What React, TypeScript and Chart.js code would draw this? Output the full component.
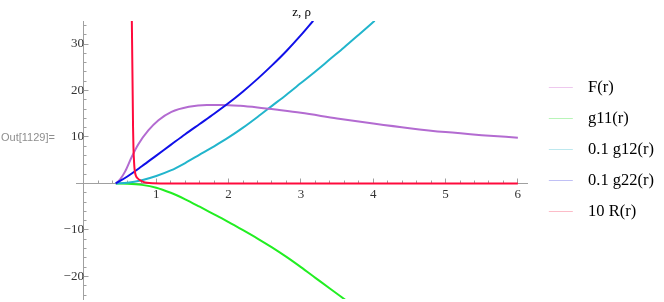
import { useEffect, useRef } from 'react';
import { Chart, registerables } from 'chart.js';

Chart.register(...registerables);

// ---- data ----
const fR = [0.44, 0.5, 0.57, 0.66, 0.75, 0.89, 1.03, 1.21, 1.45, 1.7, 1.9, 2.16, 2.4, 2.7, 3.0, 3.5, 4.0, 4.5, 5.0, 5.5, 6.0];
const fV = [0, 0.9, 2.6, 5.7, 8.4, 11.4, 13.6, 15.4, 16.5, 16.9, 16.9, 16.7, 16.35, 15.8, 15.2, 14.0, 12.9, 11.9, 11.05, 10.4, 9.85];

const g11R = [0.44, 0.6, 0.8, 1.0, 1.2, 1.4, 1.6, 1.8, 2.0, 2.2, 2.4, 2.6, 2.8, 3.0, 3.2, 3.4, 3.62];
const g11V = [0, -0.05, -0.3, -0.9, -2.0, -3.4, -5.0, -6.65, -8.3, -10.05, -11.85, -13.75, -15.8, -18.0, -20.3, -22.6, -25.1];

const g12R = [0.44, 0.6, 0.8, 1.0, 1.2, 1.4, 1.6, 1.8, 2.0, 2.2, 2.4, 2.6, 2.8, 3.0, 3.2, 3.4, 3.6, 3.8, 4.02];
const g12V = [0, 0.15, 0.7, 1.6, 2.8, 4.4, 6.2, 8.0, 9.9, 12.0, 14.3, 16.7, 19.1, 21.6, 24.1, 26.7, 29.3, 32.0, 35.0];

const g22R = [0.44, 0.6, 0.8, 1.0, 1.2, 1.4, 1.6, 1.8, 2.0, 2.2, 2.4, 2.6, 2.8, 3.0, 3.17];
const g22V = [0, 1.5, 3.7, 6.0, 8.3, 10.6, 12.8, 15.0, 17.3, 19.8, 22.5, 25.4, 28.5, 31.9, 35.0];

const rR = [0.655, 0.662, 0.668, 0.674, 0.679, 0.684, 0.69, 0.697, 0.707, 0.72, 0.75, 0.78, 0.82, 0.87, 0.95, 1.2, 2, 3, 4, 5, 6];
const rV = [40, 35, 27, 19, 12, 8, 5.5, 3.6, 2.3, 1.6, 1.0, 0.65, 0.35, 0.15, 0.05, 0, 0, 0, 0, 0, 0];

const xTicks = [1, 2, 3, 4, 5, 6];
const yTicks = [-20, -10, 10, 20, 30];
const seriesNames = ['F(r)', 'g11(r)', '0.1 g12(r)', '0.1 g22(r)', '10 R(r)'];
const plotLabel = 'z, ρ';
const outLabel = 'Out[1129]=';

// ---- styles ----
const lineColors = ['#b36bd1', '#22ee22', '#22b5cc', '#1010e8', '#ff0a3c'];
const swatchColors = ['#eec8ee', '#b8f5b8', '#bde8ee', '#c0c0f5', '#fcbcc8'];
const AXIS = '#a0a0a0';
const CANVAS_W = 664;
const PAD_LEFT = 76;
const PLOT_W = 450.4;

const pts = (xs: number[], ys: number[]) => xs.map((x, i) => ({ x, y: ys[i] }));
const align = (p: number) => Math.round(p - 0.5) + 0.5;

const mmaPlugin = {
  id: 'mmaDecor',
  beforeDatasetsDraw(chart: any) {
    const { ctx, scales } = chart;
    const x = scales.x;
    const y = scales.y;
    const x0 = align(x.getPixelForValue(0));
    const y0 = align(y.getPixelForValue(0));
    ctx.save();
    ctx.strokeStyle = AXIS;
    ctx.lineWidth = 1;
    ctx.beginPath();
    for (let i = 1; i <= 30; i++) {
      const px = align(x.getPixelForValue(i / 5));
      const major = i % 5 === 0;
      ctx.moveTo(px, y0);
      ctx.lineTo(px, y0 - (major ? 5 : 3));
    }
    for (let v = -24; v <= 34; v += 2) {
      if (v === 0) continue;
      const py = align(y.getPixelForValue(v));
      const major = v % 10 === 0;
      ctx.moveTo(x0, py);
      ctx.lineTo(x0 + (major ? 5 : 3), py);
    }
    ctx.stroke();
    ctx.restore();
  },
  afterDraw(chart: any) {
    const { ctx } = chart;
    ctx.save();
    ctx.font = '11px "Liberation Sans"';
    ctx.fillStyle = '#8e8e8e';
    ctx.textBaseline = 'middle';
    ctx.textAlign = 'left';
    ctx.fillText(outLabel, 1, 137.5);
    ctx.restore();
  },
};

const clearPadding = (scale: any) => {
  scale.paddingLeft = 0;
  scale.paddingRight = 0;
  scale.paddingTop = 0;
  scale.paddingBottom = 0;
};

export default function App() {
  const ref = useRef<HTMLCanvasElement>(null);

  useEffect(() => {
    const swatches = swatchColors.map((c) => {
      const cv = document.createElement('canvas');
      cv.width = 38;
      cv.height = 3;
      const g = cv.getContext('2d')!;
      g.fillStyle = c;
      g.fillRect(7, 1, 24, 1);
      return cv;
    });

    const data = [pts(fR, fV), pts(g11R, g11V), pts(g12R, g12V), pts(g22R, g22V), pts(rR, rV)];
    const orders = [2, 4, 3, 1, 0];

    const chart = new Chart(ref.current!, {
      type: 'line',
      data: {
        datasets: data.map((d, i) => ({
          label: seriesNames[i],
          data: d,
          borderColor: lineColors[i],
          backgroundColor: lineColors[i],
          borderWidth: 2,
          pointRadius: 0,
          fill: false,
          cubicInterpolationMode: 'monotone' as const,
          order: orders[i],
        })),
      },
      options: {
        responsive: false,
        devicePixelRatio: 1,
        animation: false,
        events: [],
        layout: { padding: { left: PAD_LEFT, right: 0, top: 0, bottom: 3 } },
        scales: {
          x: {
            type: 'linear',
            min: -0.11,
            max: 6.13,
            position: { y: 0 } as any,
            grid: { display: false, drawTicks: false },
            border: { display: true, color: AXIS, width: 1 },
            afterBuildTicks: (s: any) => {
              s.ticks = xTicks.map((v) => ({ value: v }));
            },
            afterFit: (s: any) => {
              clearPadding(s);
              s.height = 0;
            },
            ticks: {
              padding: 3,
              maxRotation: 0,
              autoSkip: false,
              color: '#333',
              font: { family: '"Liberation Serif"', size: 13 },
              callback: (v: any) => String(v),
            },
          },
          y: {
            type: 'linear',
            min: -24.85,
            max: 34.95,
            position: { x: 0 } as any,
            grid: { display: false, drawTicks: false },
            border: { display: true, color: AXIS, width: 1 },
            afterBuildTicks: (s: any) => {
              s.ticks = yTicks.map((v) => ({ value: v }));
            },
            afterFit: (s: any) => {
              clearPadding(s);
              const lw = s.chart.legend ? s.chart.legend.width : 0;
              s.width = Math.max(0, CANVAS_W - PAD_LEFT - PLOT_W - lw);
            },
            ticks: {
              padding: 3,
              autoSkip: false,
              color: '#333',
              font: { family: '"Liberation Serif"', size: 13 },
              callback: (v: any) => (Number(v) < 0 ? '\u2212' + Math.abs(Number(v)) : String(v)),
            },
          },
        },
        plugins: {
          tooltip: { enabled: false },
          title: {
            display: true,
            text: plotLabel,
            fullSize: false,
            color: '#000',
            font: { family: '"Liberation Serif"', size: 13, weight: 'normal' as any },
            padding: { top: 5.2, bottom: 0.2 },
          },
          legend: {
            display: true,
            position: 'right',
            align: 'center',
            labels: {
              usePointStyle: true,
              pointStyleWidth: 38,
              padding: 14.5,
              color: '#000',
              font: { family: '"Liberation Serif"', size: 16.5 },
              generateLabels: () =>
                seriesNames.map((t, i) => ({
                  text: t,
                  fillStyle: swatchColors[i],
                  strokeStyle: swatchColors[i],
                  lineWidth: 0,
                  pointStyle: swatches[i] as any,
                  hidden: false,
                  datasetIndex: i,
                  fontColor: '#000',
                })),
            },
          },
        },
      },
      plugins: [mmaPlugin],
    } as any);

    return () => chart.destroy();
  }, []);

  return (
    <div style={{ position: 'fixed', left: 0, top: 0, width: 664, height: 302, background: '#fff' }}>
      <canvas ref={ref} width={664} height={302} style={{ display: 'block', width: 664, height: 302 }} />
    </div>
  );
}
